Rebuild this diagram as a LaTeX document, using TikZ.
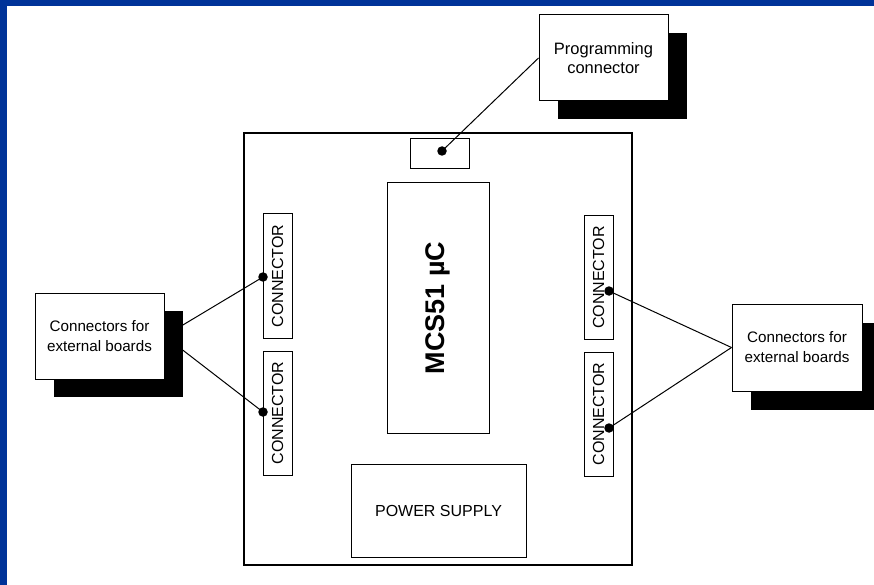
\documentclass[tikz,border=0pt]{standalone}
\usepackage{fontspec}
\setmainfont{Liberation Sans}
\usetikzlibrary{calc}
\pgfdeclarelayer{back}
\pgfdeclarelayer{paper}
\pgfsetlayers{paper,back,main}
\definecolor{frameblue}{RGB}{0,51,153}
\begin{document}
\begin{tikzpicture}[x=1pt,y=-1pt,
  box/.style={draw,line width=1pt,inner sep=0pt,align=center},
  extbox/.style={box,fill=white,minimum width=129pt,minimum height=86pt,font=\fontsize{15.2}{20}\selectfont},
  shadowbox/.style={fill=black,inner sep=0pt,minimum width=129pt,minimum height=86pt},
  connbox/.style={box,rotate=90,minimum width=124pt,minimum height=29pt,font=\fontsize{16}{19}\selectfont},
  pin/.style={circle,fill=black,inner sep=0pt,minimum size=9.5pt},
  wire/.style={line width=1pt}]
\useasboundingbox (0,0) rectangle (874,585);
\begin{pgfonlayer}{paper}
\fill[white] (0,0) rectangle (874,585);
\fill[frameblue] (0,0) rectangle (874,6);
\fill[frameblue] (0,0) rectangle (7,585);
\end{pgfonlayer}
% board
\node[draw,line width=2pt,inner sep=0pt,minimum width=388pt,minimum height=432pt] (board) at (438,349) {};
\node[box,minimum width=59pt,minimum height=30pt] (prog) at (439.5,154) {};
\node[box,rotate=90,minimum width=250pt,minimum height=102pt,font=\fontsize{27}{30}\selectfont\bfseries] (mcu) at (438,308) {MCS51 µC};
\node[box,minimum width=175pt,minimum height=93pt,font=\fontsize{16}{19}\selectfont] (psu) at (438.5,510.5) {POWER SUPPLY};
\node[connbox] (lc1) at (277.5,276) {CONNECTOR};
\node[connbox] (lc2) at (277.5,413) {CONNECTOR};
\node[connbox] (rc1) at (598.5,277.5) {CONNECTOR};
\node[connbox] (rc2) at (598.5,414) {CONNECTOR};
% external boxes
\node[shadowbox] (pshadow) at (622.5,76) {};
\node[extbox,font=\fontsize{16.5}{19.5}\selectfont] (pbox) at (603.5,58) {Programming\\connector};
\node[shadowbox] (lshadow) at (118,354) {};
\node[extbox] (lbox) at (99.5,336) {Connectors for\\external boards};
\node[shadowbox,minimum width=130pt,minimum height=87pt] (rshadow) at (816,366.5) {};
\node[extbox,minimum width=130pt,minimum height=87pt] (rbox) at (797,347.5) {Connectors for\\external boards};
% pins
\node[pin] (pp) at (442,151) {};
\node[pin] (lp1) at (263,277) {};
\node[pin] (lp2) at (263,412) {};
\node[pin] (rp1) at (609,291) {};
\node[pin] (rp2) at (609,428) {};
\begin{pgfonlayer}{back}
\draw[wire] (pp.center) -- (pbox.west);
\draw[wire] (lbox.east) -- (lp1.center);
\draw[wire] (lbox.east) -- (lp2.center);
\draw[wire] (rp1.center) -- (rbox.west);
\draw[wire] (rp2.center) -- (rbox.west);
\end{pgfonlayer}
\end{tikzpicture}
\end{document}
